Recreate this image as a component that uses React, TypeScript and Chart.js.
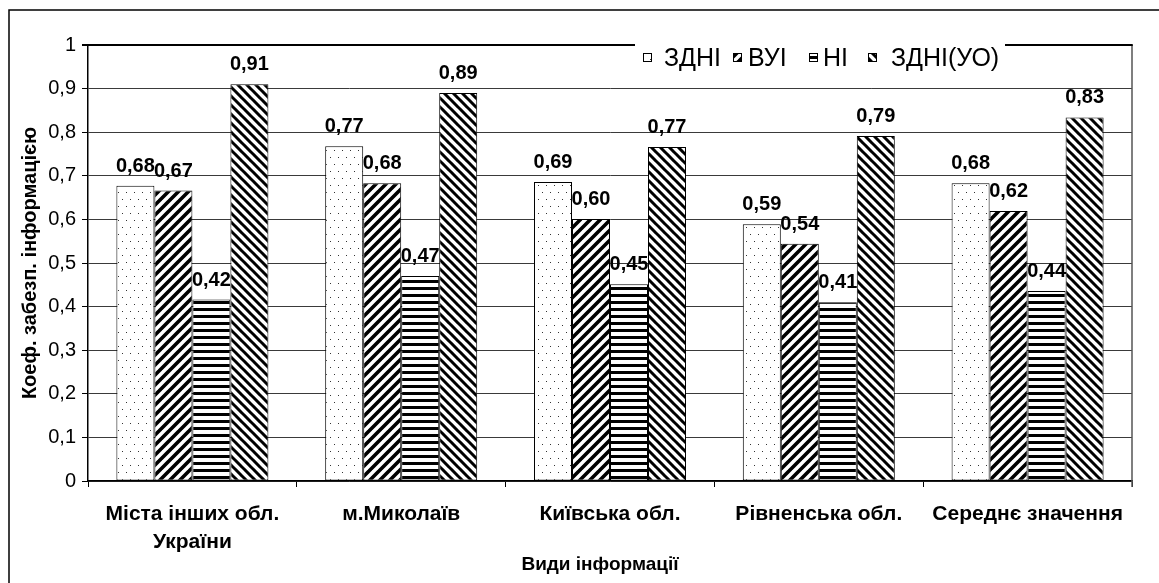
import React, { useEffect, useRef } from "react";
import { Chart, registerables } from "chart.js";

Chart.register(...registerables);

const categories: (string | string[])[] = [
  ["Міста інших обл.", "України"],
  "м.Миколаїв",
  "Київська обл.",
  "Рівненська обл.",
  "Середнє значення",
];
const seriesNames = ["ЗДНІ", "ВУІ", "НІ", "ЗДНІ(УО)"];
const zdni = [0.677, 0.768, 0.686, 0.589, 0.683];
const vui = [0.666, 0.683, 0.601, 0.544, 0.619];
const ni = [0.416, 0.47, 0.451, 0.41, 0.436];
const zdniUo = [0.91, 0.89, 0.766, 0.791, 0.834];
const yMin = 0;
const yMax = 1;
const yStep = 0.1;
const yTitle = "Коеф. забезп. інформацією";
const xTitle = "Види інформації";

const FONT = "'Liberation Sans', Arial, sans-serif";

function makeTile(w: number, h: number, draw: (c: CanvasRenderingContext2D) => void) {
  const cv = document.createElement("canvas");
  cv.width = w;
  cv.height = h;
  const c = cv.getContext("2d")!;
  c.fillStyle = "#fff";
  c.fillRect(0, 0, w, h);
  draw(c);
  return cv;
}

function makePatterns(ctx: CanvasRenderingContext2D) {
  const dots = makeTile(8, 14, (c) => {
    c.fillStyle = "#333";
    c.fillRect(2, 3, 1, 1);
    c.fillRect(6, 10, 1, 1);
  });
  const slash = makeTile(10, 10, (c) => {
    c.strokeStyle = "#000";
    c.lineWidth = 3.6;
    c.beginPath();
    for (const o of [-10, 0, 10]) {
      c.moveTo(o - 1, 11);
      c.lineTo(o + 11, -1);
    }
    c.stroke();
  });
  const horiz = makeTile(4, 7, (c) => {
    c.fillStyle = "#000";
    c.fillRect(0, 0, 4, 3);
  });
  const back = makeTile(9, 9, (c) => {
    c.strokeStyle = "#000";
    c.lineWidth = 3;
    c.beginPath();
    for (const o of [-9, 0, 9]) {
      c.moveTo(o - 1, -1);
      c.lineTo(o + 10, 10);
    }
    c.stroke();
  });
  return [dots, slash, horiz, back].map((t) => ctx.createPattern(t, "repeat")!);
}

const fmt = (v: number) => v.toFixed(2).replace(".", ",");

// legend layout (pixels)
const legendSquareX = [643, 733, 809, 868];
const legendTextX = [664, 748, 823, 891];

export default function App() {
  const ref = useRef<HTMLCanvasElement | null>(null);

  useEffect(() => {
    const canvas = ref.current!;
    const ctx = canvas.getContext("2d")!;
    const patterns = makePatterns(ctx);
    const seriesValues = [zdni, vui, ni, zdniUo];

    const labelPlugin = {
      id: "valueLabels",
      afterDatasetsDraw(chart: any) {
        const c = chart.ctx;
        c.save();
        c.font = `bold 20px ${FONT}`;
        c.fillStyle = "#000";
        c.textAlign = "center";
        c.textBaseline = "alphabetic";
        chart.data.datasets.forEach((ds: any, di: number) => {
          const meta = chart.getDatasetMeta(di);
          meta.data.forEach((el: any, i: number) => {
            c.fillText(fmt(ds.data[i]), el.x, el.y - 14);
          });
        });
        c.restore();
      },
    };

    const framePlugin = {
      id: "frameLegend",
      afterDraw(chart: any) {
        const c = chart.ctx;
        const a = chart.chartArea;
        c.save();
        // right border of plot
        c.strokeStyle = "#555";
        c.lineWidth = 1.5;
        c.beginPath();
        c.moveTo(a.right, a.top);
        c.lineTo(a.right, a.bottom + 6);
        c.stroke();
        // top border
        c.strokeStyle = "#000";
        c.lineWidth = 2;
        c.beginPath();
        c.moveTo(a.left - 6, a.top);
        c.lineTo(a.right + 0.75, a.top);
        c.stroke();
        // legend
        c.fillStyle = "#fff";
        c.fillRect(635, 40, 370, 46);
        c.font = `25px ${FONT}`;
        c.textBaseline = "middle";
        c.textAlign = "left";
        const sy = 53;
        seriesNames.forEach((name, i) => {
          const x = legendSquareX[i];
          c.fillStyle = patterns[i];
          c.fillRect(x, sy, 9, 9);
          c.strokeStyle = "#000";
          c.lineWidth = 1;
          c.strokeRect(x + 0.5, sy + 0.5, 8, 8);
          c.fillStyle = "#000";
          c.fillText(name, legendTextX[i], 59);
        });
        // x axis title
        c.font = `bold 19px ${FONT}`;
        c.textAlign = "center";
        c.textBaseline = "middle";
        c.fillText(xTitle, 600, 565);
        // outer frame
        c.strokeStyle = "#000";
        c.lineWidth = 1.5;
        c.strokeRect(9, 10, 1200, 700);
        c.restore();
      },
    };

    const chart = new Chart(ctx, {
      type: "bar",
      data: {
        labels: categories,
        datasets: seriesNames.map((name, i) => ({
          label: name,
          data: seriesValues[i],
          backgroundColor: patterns[i],
          borderColor: "#000",
          borderWidth: 1,
          borderSkipped: false,
          categoryPercentage: 0.728,
          barPercentage: 1,
        })),
      },
      options: {
        responsive: false,
        animation: false,
        layout: { padding: { top: 45, right: 27, left: 0, bottom: 0 } },
        plugins: {
          legend: { display: false },
          title: { display: false },
          tooltip: { enabled: false },
        },
        scales: {
          x: {
            afterFit: (s: any) => {
              s.height = 102;
            },
            grid: {
              display: true,
              drawOnChartArea: false,
              offset: true,
              tickLength: 6,
              tickColor: "#000",
            },
            border: { display: true, color: "#000", width: 1.5 },
            ticks: {
              color: "#000",
              padding: 13,
              maxRotation: 0,
              autoSkip: false,
              font: { family: FONT, size: 21, weight: "bold", lineHeight: 1.33 },
            },
            title: { display: false },
          },
          y: {
            min: yMin,
            max: yMax,
            afterFit: (s: any) => {
              s.width = 88;
            },
            ticks: {
              stepSize: yStep,
              color: "#000",
              padding: 6,
              font: { family: FONT, size: 20 },
              callback: (v: any) => {
                const n = Number(v);
                if (Math.abs(n) < 1e-9) return "0";
                if (Math.abs(n - 1) < 1e-9) return "1";
                return n.toFixed(1).replace(".", ",");
              },
            },
            grid: {
              color: "#3a3a3a",
              lineWidth: 1,
              tickLength: 6,
              tickColor: "#000",
            },
            border: { display: true, color: "#000", width: 1.5 },
            title: {
              display: true,
              text: yTitle,
              color: "#000",
              padding: { top: 18, bottom: 0 },
              font: { family: FONT, size: 20, weight: "bold", lineHeight: 1.2 },
            },
          },
        },
      },
      plugins: [labelPlugin, framePlugin],
    });

    return () => chart.destroy();
  }, []);

  return (
    <div style={{ position: "fixed", left: 0, top: 0, width: 1159, height: 583, background: "#fff" }}>
      <canvas ref={ref} width={1159} height={583} />
    </div>
  );
}
